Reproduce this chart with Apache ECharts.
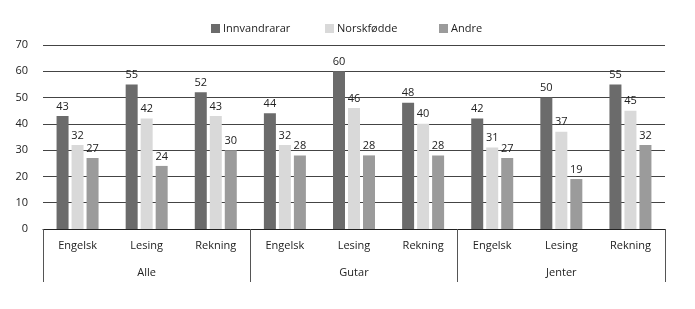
<!DOCTYPE html>
<html><head><meta charset="utf-8">
<script src="https://cdn.jsdelivr.net/npm/echarts@6/dist/echarts.min.js"></script>
<style>html,body{margin:0;padding:0;background:#fff}#c{width:695px;height:309px}</style>
</head><body><div id="c"></div>
<script>
const categories = ['Engelsk','Lesing','Rekning','Engelsk','Lesing','Rekning','Engelsk','Lesing','Rekning'];
const groups = ['Alle','Gutar','Jenter'];
const innvandrarar = [43,55,52,44,60,48,42,50,55];
const norskfodde = [32,42,43,32,46,40,31,37,45];
const andre = [27,24,30,28,28,28,27,19,32];
const seriesNames = ['Innvandrarar','Norskfødde','Andre'];
const yTicks = [0,10,20,30,40,50,60,70];

const font = 'Open Sans';
const chart = echarts.init(document.getElementById('c'));
const lbl = {show:true, position:'top', distance:4, color:'#222', fontSize:11, fontFamily:font};
const legendLefts = [206, 320, 434];
chart.setOption({
  animation:false,
  color:['#6b6b6b','#d9d9d9','#9b9b9b'],
  legend: seriesNames.map((n,i)=>({top:18, left:legendLefts[i], itemWidth:9, itemHeight:9, icon:'rect',
    itemGap:4, textStyle:{fontSize:11, fontFamily:font, color:'#222', padding:[0,0,0,-2]}, data:[n]})),
  grid:{left:43, right:30, top:45, bottom:80},
  xAxis:[
    {type:'category', data:categories, axisLine:{lineStyle:{color:'#222'}}, axisTick:{show:false},
     axisLabel:{color:'#222', fontSize:11, fontFamily:font, margin:11}},
    {type:'category', data:groups, position:'bottom', axisLine:{show:false},
     axisTick:{show:true, length:53, lineStyle:{color:'#555'}},
     axisLabel:{color:'#222', fontSize:11, fontFamily:font, margin:38}}
  ],
  yAxis:{type:'value', min:yTicks[0], max:yTicks[yTicks.length-1], interval:10,
    axisLine:{show:false}, axisTick:{show:false},
    axisLabel:{color:'#222', fontSize:11, fontFamily:font, margin:15},
    splitLine:{lineStyle:{color:'#444', width:1}}},
  series:[
    {name:seriesNames[0], type:'bar', data:innvandrarar, barWidth:12, barGap:'25%', label:lbl},
    {name:seriesNames[1], type:'bar', data:norskfodde, barWidth:12, barGap:'25%', label:lbl},
    {name:seriesNames[2], type:'bar', data:andre, barWidth:12, barGap:'25%', label:lbl}
  ]
});
</script></body></html>
